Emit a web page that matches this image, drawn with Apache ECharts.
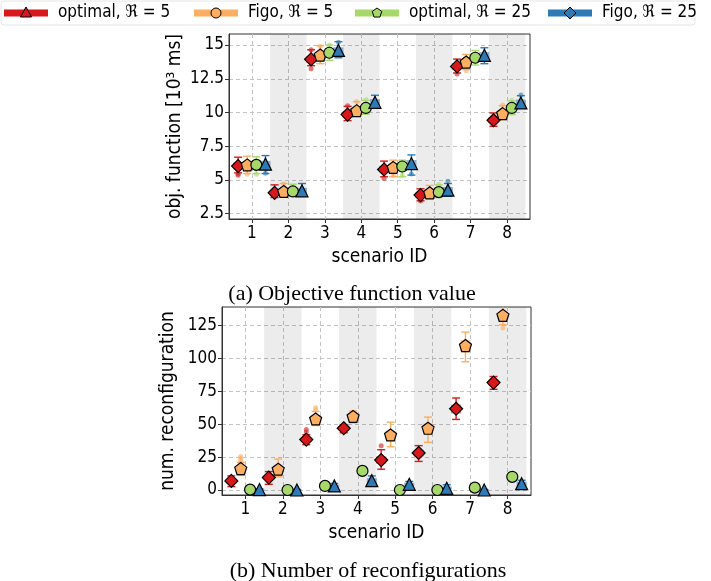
<!DOCTYPE html>
<html>
<head>
<meta charset="utf-8">
<script src="https://cdn.jsdelivr.net/npm/echarts@6/dist/echarts.min.js"></script>
<style>
  html, body { margin: 0; padding: 0; background: #fff; }
  #chart { width: 711px; height: 581px; }
</style>
</head>
<body>
<div id="chart"></div>
<script>
// ---- data ----
var scenarios = [1, 2, 3, 4, 5, 6, 7, 8];
var groupNames = ['optimal, ℜ = 5', 'Figo, ℜ = 5', 'optimal, ℜ = 25', 'Figo, ℜ = 25'];
var objTicks = [2.5, 5, 7.5, 10, 12.5, 15];
var recTicks = [0, 25, 50, 75, 100, 125];

// (a) objective function [10^3 ms]
var objMean = [
  [6.03, 4.05, 13.94, 9.85, 5.78, 3.88, 13.42, 9.43],
  [6.12, 4.15, 14.26, 10.14, 5.93, 4.05, 13.74, 9.92],
  [6.12, 4.15, 14.43, 10.34, 6.00, 4.10, 14.06, 10.34],
  [6.17, 4.20, 14.60, 10.76, 6.22, 4.25, 14.24, 10.71]
];
var objLow = [
  [5.53, 3.70, 13.47, 9.40, 5.24, 3.46, 12.93, 8.98],
  [5.48, 3.80, 13.62, 9.72, 5.24, 3.63, 13.18, 9.48],
  [5.48, 3.80, 13.87, 9.87, 5.24, 3.70, 13.52, 9.85],
  [5.48, 3.85, 14.06, 10.41, 5.36, 3.80, 13.62, 10.41]
];
var objHigh = [
  [6.69, 4.64, 14.65, 10.46, 6.40, 4.35, 13.96, 9.97],
  [6.77, 4.74, 14.95, 10.80, 6.47, 4.60, 14.31, 10.51],
  [6.72, 4.69, 15.00, 10.90, 6.47, 4.64, 14.60, 10.86],
  [6.81, 4.74, 15.25, 11.28, 6.86, 4.74, 14.80, 11.25]
];
var objQ1 = [
  [5.80, 3.90, 13.70, 9.62, 5.55, 3.68, 13.20, 9.22],
  [5.85, 3.95, 14.02, 9.92, 5.70, 3.85, 13.52, 9.70],
  [5.88, 3.95, 14.20, 10.12, 5.78, 3.90, 13.84, 10.12],
  [5.88, 3.98, 14.36, 10.52, 5.95, 4.02, 14.00, 10.48]
];
var objQ3 = [
  [6.28, 4.25, 14.18, 10.10, 6.02, 4.08, 13.66, 9.66],
  [6.38, 4.38, 14.50, 10.38, 6.18, 4.28, 13.98, 10.16],
  [6.38, 4.38, 14.66, 10.58, 6.24, 4.32, 14.30, 10.58],
  [6.42, 4.42, 14.84, 11.00, 6.48, 4.48, 14.48, 10.96]
];
// [scenario, value] points beyond the whiskers
var objOut = [
  [[1, 5.36], [1, 5.45], [3, 13.25], [3, 14.65], [4, 10.5], [5, 5.12], [6, 3.45], [7, 12.85]],
  [[1, 5.42], [2, 4.72], [3, 14.92], [4, 10.82], [5, 5.35], [8, 10.55], [7, 13.1]],
  [[1, 5.42], [3, 15.0], [4, 10.95], [5, 5.35], [6, 4.66], [8, 10.9]],
  [[1, 5.5], [3, 15.2], [5, 5.45], [6, 4.9], [8, 11.3]]
];

// (b) number of reconfigurations
var recMean = [
  [6.9, 9.4, 38.3, 46.9, 22.7, 28.1, 61.7, 81.6],
  [16.3, 15.8, 54.0, 55.9, 41.8, 46.9, 109.7, 132.7],
  [0.3, 0.0, 3.1, 14.5, 0.0, 0.0, 1.8, 10.0],
  [0.3, 0.0, 3.1, 7.1, 4.3, 1.3, 0.0, 4.8]
];
var recLow = [
  [2.6, 4.3, 34.4, 43.5, 15.8, 21.7, 53.6, 76.5],
  [11.0, 10.0, 49.0, 51.0, 32.9, 36.2, 97.4, 125.5],
  [0.0, 0.0, 1.5, 12.0, 0.0, 0.0, 0.5, 8.0],
  [0.0, 0.0, 1.5, 4.3, 2.0, 0.0, 0.0, 2.6]
];
var recHigh = [
  [10.7, 14.0, 42.0, 49.5, 30.6, 33.7, 69.9, 86.2],
  [21.0, 23.5, 59.7, 60.0, 51.5, 55.4, 119.9, 140.0],
  [1.0, 0.5, 4.5, 17.0, 0.5, 0.5, 3.0, 12.5],
  [1.0, 0.5, 5.0, 10.7, 6.5, 4.0, 0.5, 7.4]
];
var recQ1 = [
  [5.0, 7.5, 36.5, 45.0, 20.0, 25.5, 58.2, 79.5],
  [14.0, 13.5, 51.5, 53.5, 38.5, 43.0, 104.6, 130.0],
  [0.0, 0.0, 2.5, 13.5, 0.0, 0.0, 1.0, 9.0],
  [0.0, 0.0, 2.0, 5.0, 3.0, 0.5, 0.0, 3.2]
];
var recQ3 = [
  [8.5, 11.5, 40.0, 48.5, 25.5, 30.5, 64.8, 83.8],
  [18.5, 18.0, 56.5, 58.0, 45.0, 50.5, 114.0, 135.0],
  [0.5, 0.3, 3.8, 15.5, 0.3, 0.3, 2.5, 11.0],
  [0.5, 0.3, 4.0, 9.0, 5.5, 2.5, 0.3, 6.3]
];
var recOut = [
  [[3, 44.0], [3, 46.0], [5, 33.7]],
  [[1, 20.0], [1, 22.0], [1, 24.0], [1, 25.5], [3, 61.0], [3, 62.5], [8, 123.0]],
  [],
  []
];

// ---- style ----
var colors = ['#d7191c', '#fdae61', '#a6d96a', '#2c7bb6'];
var offsets = [-0.375, -0.125, 0.125, 0.375];
var pentagon = 'path://M0,-1L0.951,-0.309L0.588,0.809L-0.588,0.809L-0.951,-0.309Z';
var plotSymbols = ['diamond', pentagon, 'circle', 'triangle'];
var plotSizes = [13, 12, 11, 12];
var sansFont = "'Liberation Sans Narrow', 'DejaVu Sans Condensed', 'Liberation Sans', sans-serif";
var serifFont = "'Liberation Serif', 'DejaVu Serif', serif";

var myChart = echarts.init(document.getElementById('chart'));

// whisker + caps + translucent box
function renderErr(params, api) {
  var x = api.value(0);
  var pLo = api.coord([x, api.value(1)]);
  var pHi = api.coord([x, api.value(2)]);
  var pQ1 = api.coord([x, api.value(3)]);
  var pQ3 = api.coord([x, api.value(4)]);
  var color = api.visual('color');
  var cw = 4, bw = 5;
  return {
    type: 'group',
    children: [
      { type: 'rect', shape: { x: pQ1[0] - bw, y: pQ3[1], width: bw * 2, height: Math.max(pQ1[1] - pQ3[1], 1) },
        style: { fill: color, opacity: 0.55 } },
      { type: 'line', shape: { x1: pLo[0], y1: pLo[1], x2: pHi[0], y2: pHi[1] },
        style: { stroke: color, lineWidth: 1.4 } },
      { type: 'line', shape: { x1: pLo[0] - cw, y1: pLo[1], x2: pLo[0] + cw, y2: pLo[1] },
        style: { stroke: color, lineWidth: 1.4 } },
      { type: 'line', shape: { x1: pHi[0] - cw, y1: pHi[1], x2: pHi[0] + cw, y2: pHi[1] },
        style: { stroke: color, lineWidth: 1.4 } }
    ]
  };
}

function bands() {
  return [[{ xAxis: 1.5 }, { xAxis: 2.5 }], [{ xAxis: 3.5 }, { xAxis: 4.5 }],
          [{ xAxis: 5.5 }, { xAxis: 6.5 }], [{ xAxis: 7.5 }, { xAxis: 8.5 }]];
}

var series = [];
function addPanel(idx, mean, low, high, q1, q3, outs) {
  series.push({
    type: 'scatter', xAxisIndex: idx, yAxisIndex: idx, data: [], silent: true, z: 1,
    markArea: { silent: true, itemStyle: { color: 'rgba(0,0,0,0.075)' }, data: bands() }
  });
  for (var g = 0; g < 4; g++) {
    var errData = [], outData = [], markData = [];
    for (var i = 0; i < scenarios.length; i++) {
      var x = scenarios[i] + offsets[g];
      errData.push([x, low[g][i], high[g][i], q1[g][i], q3[g][i]]);
      markData.push([x, mean[g][i]]);
    }
    outs[g].forEach(function (p) { outData.push([p[0] + offsets[g], p[1]]); });
    series.push({
      type: 'custom', xAxisIndex: idx, yAxisIndex: idx, renderItem: renderErr, clip: true,
      itemStyle: { color: colors[g] }, data: errData, z: 3,
      encode: { x: 0, y: [1, 2, 3, 4] }
    });
    series.push({
      type: 'scatter', xAxisIndex: idx, yAxisIndex: idx, data: outData, symbolSize: 5,
      itemStyle: { color: colors[g], opacity: 0.6 }, z: 3
    });
    series.push({
      type: 'scatter', xAxisIndex: idx, yAxisIndex: idx, data: markData,
      symbol: plotSymbols[g], symbolSize: plotSizes[g], z: 5,
      itemStyle: { color: colors[g], borderColor: '#000', borderWidth: 1.2, opacity: 1 }
    });
  }
}
addPanel(0, objMean, objLow, objHigh, objQ1, objQ3, objOut);
addPanel(1, recMean, recLow, recHigh, recQ1, recQ3, recOut);

function xAxisOpt(idx) {
  return {
    type: 'value', gridIndex: idx, min: 0.375, max: 8.625,
    name: 'scenario ID', nameLocation: 'middle', nameGap: 29,
    nameTextStyle: { fontFamily: sansFont, fontSize: 19, color: '#000' },
    axisLine: { show: true, onZero: false, lineStyle: { color: '#333', width: 1 } },
    axisTick: { show: true, length: 4, customValues: scenarios, lineStyle: { color: '#333' } },
    axisLabel: { customValues: scenarios, fontFamily: sansFont, fontSize: 17, color: '#000', margin: 6 },
    splitLine: { show: true, lineStyle: { color: '#c4c4c4', type: [4, 3], width: 1 } }
  };
}
function yAxisOpt(idx, min, max, ticks, name, gap) {
  return {
    type: 'value', gridIndex: idx, min: min, max: max,
    name: name, nameLocation: 'middle', nameGap: gap,
    nameTextStyle: { fontFamily: sansFont, fontSize: 19, color: '#000' },
    axisLine: { show: true, lineStyle: { color: '#333', width: 1 } },
    axisTick: { show: true, length: 4, customValues: ticks, lineStyle: { color: '#333' } },
    axisLabel: { customValues: ticks, fontFamily: sansFont, fontSize: 17, color: '#000', margin: 5 },
    splitLine: { show: true, lineStyle: { color: '#c4c4c4', type: [4, 3], width: 1 } }
  };
}

// legend drawn by hand: thick line with a marker in the middle
var legendX = [4, 194, 355, 548];
var graphics = [
  { type: 'rect', shape: { x: 1, y: 1, width: 694, height: 24, r: 3 },
    style: { fill: '#fff', stroke: '#e6e6e6', lineWidth: 1 } }
];
for (var g = 0; g < 4; g++) {
  graphics.push({ type: 'line', shape: { x1: legendX[g], y1: 13, x2: legendX[g] + 44, y2: 13 },
    style: { stroke: colors[g], lineWidth: 7 } });
  graphics.push({ type: 'text', x: legendX[g] + 54, y: 13,
    style: { text: groupNames[g], fontFamily: sansFont, fontSize: 17, fill: '#000', verticalAlign: 'middle' } });
}
var cy = 13, r = 5;
var c0 = legendX[0] + 22, c1 = legendX[1] + 22, c2 = legendX[2] + 22, c3 = legendX[3] + 22;
graphics.push({ type: 'polygon', z: 100,
  shape: { points: [[c0, cy - r - 1], [c0 + r + 0.5, cy + r - 1], [c0 - r - 0.5, cy + r - 1]] },
  style: { fill: colors[0], stroke: '#000', lineWidth: 1 } });
graphics.push({ type: 'circle', z: 100, shape: { cx: c1, cy: cy, r: r },
  style: { fill: colors[1], stroke: '#000', lineWidth: 1 } });
graphics.push({ type: 'polygon', z: 100,
  shape: { points: [[c2, cy - r], [c2 + 4.75, cy - 1.55], [c2 + 2.94, cy + 4.05], [c2 - 2.94, cy + 4.05], [c2 - 4.75, cy - 1.55]] },
  style: { fill: colors[2], stroke: '#000', lineWidth: 1 } });
graphics.push({ type: 'polygon', z: 100,
  shape: { points: [[c3, cy - r - 1], [c3 + r + 1, cy], [c3, cy + r + 1], [c3 - r - 1, cy]] },
  style: { fill: colors[3], stroke: '#000', lineWidth: 1 } });

option = {
  animation: false,
  backgroundColor: '#fff',
  grid: [
    { left: 229, top: 34, width: 301, height: 185, show: true, borderColor: '#333', borderWidth: 1, backgroundColor: 'transparent' },
    { left: 222, top: 307, width: 309, height: 188, show: true, borderColor: '#333', borderWidth: 1, backgroundColor: 'transparent' }
  ],
  xAxis: [xAxisOpt(0), xAxisOpt(1)],
  yAxis: [
    yAxisOpt(0, 2.11, 15.82, objTicks, 'obj. function [10³ ms]', 44),
    yAxisOpt(1, -3.8, 139, recTicks, 'num. reconfiguration', 44)
  ],
  title: [
    { text: '(a) Objective function value', left: 347, top: 278, textAlign: 'center',
      textStyle: { fontFamily: serifFont, fontSize: 22, fontWeight: 'normal', color: '#000' } },
    { text: '(b) Number of reconfigurations', left: 363, top: 555, textAlign: 'center',
      textStyle: { fontFamily: serifFont, fontSize: 22, fontWeight: 'normal', color: '#000' } }
  ],
  graphic: graphics,
  series: series
};

myChart.setOption(option);
window.addEventListener('resize', function () {
  myChart.resize();
});
</script>
</body>
</html>
